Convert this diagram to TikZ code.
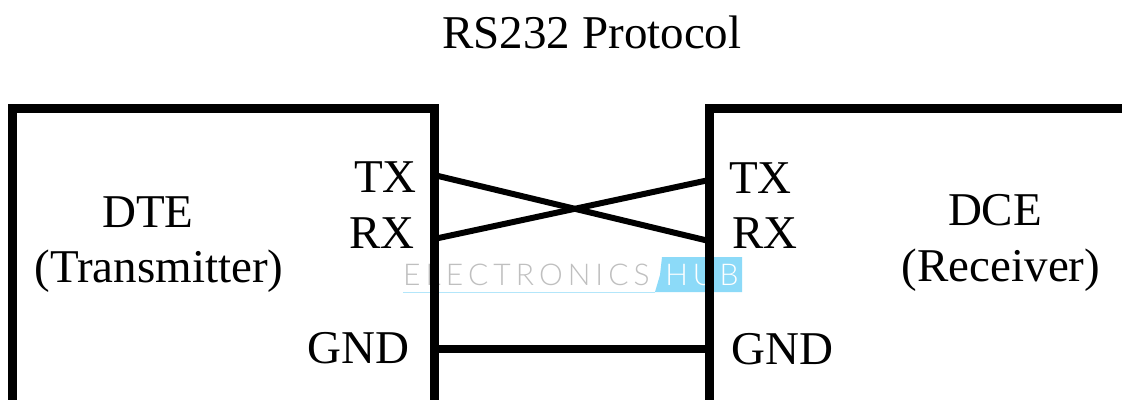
\documentclass[tikz,border=0pt]{standalone}
\usepackage{fontspec}
\setmainfont{Liberation Serif}
\newfontfamily\wmfont{Lato Light}
\begin{document}
\begin{tikzpicture}[x=1pt,y=-1pt,
  lbl/.style={inner sep=0pt,font=\fontsize{47}{50}\selectfont},
  boxline/.style={line width=9pt},
  wire/.style={line width=6pt},
  gndwire/.style={line width=8pt}]
\clip (0,0) rectangle (1122,399);
\fill[white] (0,0) rectangle (1122,399);
% title
\node[lbl,anchor=base] (title) at (592,48) {RS232 Protocol};
% watermark
\node[inner sep=0pt,anchor=base west,text=black!25,font=\wmfont\fontsize{30}{30}\selectfont] (wm) at (403,285) {E\,L\,E\,C\,T\,R\,O\,N\,I\,C\,S};
\fill[cyan!45] (662,257) -- (742,257) -- (742,292) -- (655,292) -- (660,275) -- cycle;
\node[inner sep=0pt,anchor=base,text=white,font=\wmfont\fontsize{30}{30}\selectfont] (hub) at (702,285) {H\,U\,B};
\draw[cyan!30,line width=1pt] (403,292) -- (655,292);
% boxes
\draw[boxline] (434,410) -- (434,108.5) -- (12.5,108.5) -- (12.5,410);
\draw[boxline] (709,410) -- (709,108.5) -- (1130,108.5);
% labels
\node[lbl,anchor=base] (dte) at (148,227) {DTE};
\node[lbl,anchor=base] (dtesub) at (159,282) {(Transmitter)};
\node[lbl,anchor=base] (dce) at (995,225) {DCE};
\node[lbl,anchor=base] (dcesub) at (1001,281) {(Receiver)};
\node[lbl,anchor=base east] (ltx) at (417,192) {TX};
\node[lbl,anchor=base east] (lrx) at (415,248) {RX};
\node[lbl,anchor=base east] (lgnd) at (410,363) {GND};
\node[lbl,anchor=base west] (rtx) at (729,193) {TX};
\node[lbl,anchor=base west] (rrx) at (732,248) {RX};
\node[lbl,anchor=base west] (rgnd) at (731,364) {GND};
% pins
\coordinate (ptxl) at (434,175);
\coordinate (prxl) at (434,239);
\coordinate (ptxr) at (709,180);
\coordinate (prxr) at (709,241);
\coordinate (pgl) at (434,349);
\coordinate (pgr) at (709,349);
% wires
\draw[wire] (ptxl) -- (prxr);
\draw[wire] (prxl) -- (ptxr);
\draw[gndwire] (pgl) -- (pgr);
\end{tikzpicture}
\end{document}
